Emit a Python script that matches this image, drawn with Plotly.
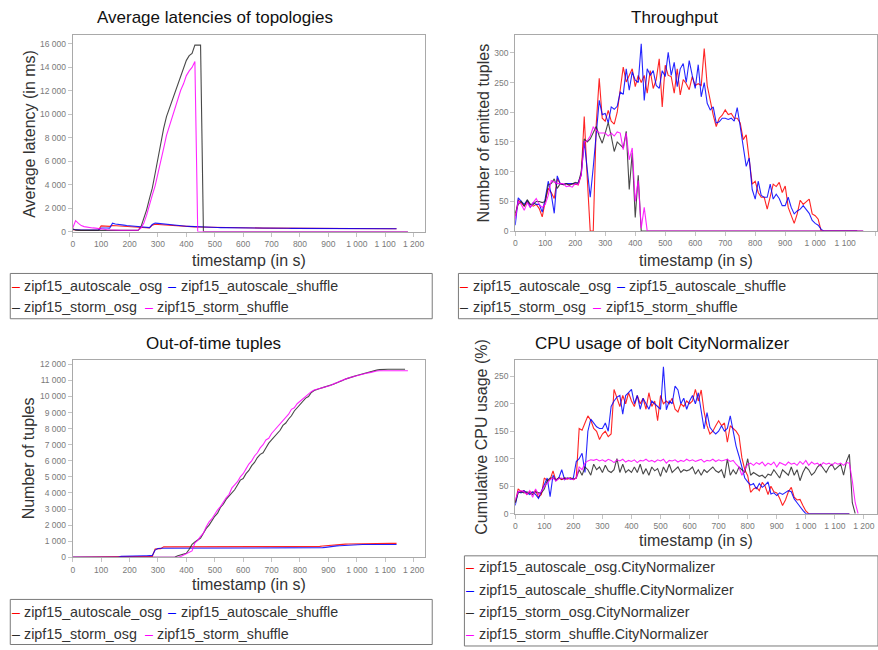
import plotly.graph_objects as go

W, H = 878, 650

# ---------------- data ----------------
T = list(range(0, 1190, 10))  # sampling grid (s)

SERIES = ["zipf15_autoscale_osg", "zipf15_autoscale_shuffle", "zipf15_storm_osg", "zipf15_storm_shuffle"]
CPU_SERIES = [s + ".CityNormalizer" for s in SERIES]
COLORS = ["#ff0000", "#0000ff", "#2a2a2a", "#ff00ff"]

# Average latency (ms)
lat_red = [150, 120, 110, 110, 110, 110, 110, 110, 110, 110,
           480, 470, 450, 440, 520, 500, 480, 460, 450, 440,
           420, 410, 400, 390, 370, 340, 310, 300, 550, 620,
           600, 580, 560, 540, 520, 500, 485, 470, 455, 440,
           430, 420, 410, 400, 392, 385, 378, 372, 366, 360,
           355, 350, 345, 340, 336, 332, 328, 324, 320, 317,
           314, 311, 308, 305, 302, 300, 298, 296, 294, 292,
           290, 288, 286, 284, 282, 280, 279, 278, 276, 275,
           274, 272, 271, 270, 268, 267, 266, 265, 263, 262,
           261, 260, 258, 257, 256, 255, 254, 252, 251, 250,
           249, 248, 246, 245, 244, 243, 242, 240, 239, 238,
           237, 236, 235, 234, 233]
lat_blue = [180, 150, 140, 130, 130, 130, 125, 125, 120, 120,
            300, 320, 300, 290, 720, 650, 600, 570, 550, 520,
            500, 480, 460, 440, 400, 370, 350, 340, 600, 720,
            700, 670, 640, 610, 580, 555, 530, 510, 490, 470,
            455, 440, 425, 410, 400, 390, 380, 372, 364, 357,
            350, 344, 338, 333, 328, 324, 320, 316, 312, 309,
            306, 303, 300, 298, 296, 294, 292, 290, 288, 286,
            284, 282, 281, 280, 278, 277, 276, 275, 273, 272,
            271, 270, 269, 268, 267, 266, 265, 264, 263, 262,
            261, 260, 259, 258, 257, 256, 255, 254, 253, 252,
            251, 250, 249, 248, 247, 246, 245, 244, 243, 242,
            241, 240, 239, 238, 237]
lat_black = [250, 120, 100, 100, 100, 100, 100, 100, 100, 100,
             100, 100, 100, 100, 100, 100, 100, 100, 100, 100,
             100, 100, 100, 100, 400, 1100, 1850, 2800, 3700, 4950,
             6250, 7700, 8800, 9800, 10500, 11200, 11800, 12600, 13200, 13900,
             14600, 15000, 15200, 15900, 15900, 15900, 10, 10, 10, 10,
             10, 10, 10, 10, 10, 10, 10, 10, 10, 10,
             10, 10, 10, 10, 10, 10, 10, 10, 10, 10,
             10, 10, 10, 10, 10, 10, 10, 10, 10, 10,
             10, 10, 10, 10, 10, 10, 10, 10, 10, 10,
             10, 10, 10, 10, 10, 10, 10, 10, 10, 10,
             10, 10, 10, 10, 10, 10, 10, 10, 10, 10,
             10, 10, 10, 10, 10, 10, 10, 10, 10]
lat_mag = [300, 930, 700, 510, 420, 370, 340, 310, 290, 280,
           250, 200, 150, 130, 120, 115, 115, 110, 110, 110,
           110, 110, 110, 110, 300, 700, 1400, 2150, 3100, 3900,
           4900, 6000, 7100, 8200, 9000, 9800, 10600, 11300, 12050, 12600,
           13300, 13700, 14000, 14500, 0, 0, 0, 0, 0, 0,
           0, 0, 0, 0, 0, 0, 0, 0, 0, 0,
           0, 0, 0, 0, 0, 0, 0, 0, 0, 0,
           0, 0, 0, 0, 0, 0, 0, 0, 0, 0,
           0, 0, 0, 0, 0, 0, 0, 0, 0, 0,
           0, 0, 0, 0, 0, 0, 0, 0, 0, 0,
           0, 0, 0, 0, 0, 0, 0, 0, 0, 0,
           0, 0, 0, 0, 0, 0, 0, 0, 0]

# Throughput (number of emitted tuples)
tp_red = [25, 52, 48, 42, 50, 45, 42, 45, 38, 24,
          50, 72, 65, 55, 88, 80, 78, 80, 78, 80,
          79, 78, 95, 193, 90, 0, 0, 180, 257, 190,
          185, 203, 185, 180, 200, 240, 276, 251, 262, 273,
          243, 262, 250, 262, 232, 270, 240, 255, 290, 209,
          279, 262, 260, 232, 273, 229, 255, 248, 238, 260,
          245, 248, 245, 307, 245, 218, 195, 176, 190, 195,
          204, 196, 198, 190, 190, 182, 154, 162, 123, 79,
          84, 65, 57, 57, 37, 57, 79, 75, 82, 65,
          76, 40, 28, 13, 29, 52, 45, 50, 54, 29,
          26, 20, 0, 0, 0, 0, 0, 0, 0, 0,
          0, 0, 0, 0, 0]
tp_blue = [10, 56, 50, 45, 52, 40, 48, 45, 45, 32,
           55, 84, 62, 30, 93, 80, 78, 80, 80, 80,
           80, 82, 95, 151, 100, 57, 107, 170, 220, 196,
           198, 182, 209, 205, 210, 234, 230, 273, 237, 268,
           254, 250, 315, 220, 273, 262, 270, 245, 240, 270,
           260, 301, 262, 284, 243, 273, 282, 250, 287, 262,
           240, 280, 226, 250, 215, 204, 209, 182, 184, 190,
           190, 188, 190, 185, 208, 176, 146, 109, 123, 70,
           54, 84, 60, 57, 57, 79, 54, 62, 55, 43,
           43, 57, 40, 29, 34, 37, 43, 37, 30, 18,
           13, 10, 3, 0, 0, 0, 0, 0, 0, 0,
           0, 0, 0, 0, 0]
tp_black = [30, 45, 50, 42, 53, 45, 45, 50, 50, 48,
            50, 78, 80, 88, 72, 80, 78, 80, 77, 80,
            82, 80, 100, 155, 150, 155, 165, 176, 160, 148,
            165, 183, 160, 134, 150, 145, 140, 168, 70, 132,
            23, 94, 0, 0, 0, 0, 0, 0, 0, 0,
            0, 0, 0, 0, 0, 0, 0, 0, 0, 0,
            0, 0, 0, 0, 0, 0, 0, 0, 0, 0,
            0, 0, 0, 0, 0, 0, 0, 0, 0, 0,
            0, 0, 0, 0, 0, 0, 0, 0, 0, 0,
            0, 0, 0, 0, 0, 0, 0, 0, 0, 0,
            0, 0, 0, 0, 0, 0, 0, 0, 0, 0,
            0, 0, 0, 0, 0, 0, 0]
tp_mag = [20, 50, 45, 35, 48, 40, 48, 55, 45, 40,
          45, 60, 85, 82, 80, 80, 80, 75, 76, 74,
          80, 78, 95, 150, 152, 160, 175, 170, 165, 165,
          165, 160, 165, 160, 167, 165, 137, 165, 120, 140,
          50, 85, 5, 40, 0, 0, 0, 0, 0, 0,
          0, 0, 0, 0, 0, 0, 0, 0, 0, 0,
          0, 0, 0, 0, 0, 0, 0, 0, 0, 0,
          0, 0, 0, 0, 0, 0, 0, 0, 0, 0,
          0, 0, 0, 0, 0, 0, 0, 0, 0, 0,
          0, 0, 0, 0, 0, 0, 0, 0, 0, 0,
          0, 0, 0, 0, 0, 0, 0, 0, 0, 0,
          0, 0, 0, 0, 0, 0, 0]

# Out-of-time tuples (cumulative count)
oot_red = [0, 0, 0, 0, 0, 0, 0, 0, 0, 0,
           0, 0, 10, 15, 20, 25, 30, 35, 40, 45,
           50, 55, 55, 60, 60, 60, 60, 60, 60, 520,
           530, 540, 650, 650, 650, 650, 650, 650, 650, 650,
           650, 650, 650, 650, 650, 650, 650, 650, 650, 650,
           650, 650, 650, 650, 650, 650, 650, 650, 650, 650,
           650, 650, 650, 650, 650, 650, 650, 650, 650, 650,
           650, 650, 650, 650, 650, 650, 650, 650, 650, 650,
           650, 650, 650, 650, 650, 650, 650, 680, 700, 720,
           740, 760, 780, 790, 800, 810, 820, 830, 835, 840,
           850, 860, 865, 870, 870, 870, 870, 870, 870, 870,
           870, 870, 870, 870, 870]
oot_blue = [0, 0, 0, 0, 0, 0, 0, 0, 0, 0,
            0, 0, 0, 0, 0, 0, 0, 60, 70, 75,
            80, 85, 90, 95, 100, 100, 100, 100, 120, 450,
            550, 560, 560, 560, 560, 560, 560, 560, 560, 560,
            560, 560, 560, 560, 560, 560, 560, 560, 560, 560,
            560, 560, 560, 560, 560, 560, 560, 560, 560, 560,
            560, 560, 560, 560, 560, 560, 560, 560, 560, 560,
            560, 560, 560, 560, 560, 560, 560, 560, 560, 560,
            560, 560, 560, 560, 560, 560, 560, 580, 600, 620,
            650, 670, 690, 710, 720, 735, 750, 760, 770, 780,
            785, 790, 795, 800, 800, 800, 800, 800, 800, 800,
            800, 800, 800, 800, 800]
oot_black = [0, 0, 0, 0, 0, 0, 0, 0, 0, 0,
             0, 0, 0, 0, 0, 0, 0, 0, 0, 0,
             0, 0, 0, 0, 0, 0, 0, 0, 0, 0,
             0, 0, 0, 0, 0, 0, 20, 100, 150, 180,
             250, 500, 800, 950, 1050, 1200, 1500, 1800, 2000, 2300,
             2550, 2750, 3100, 3300, 3600, 3800, 4000, 4200, 4500, 4800,
             4900, 5200, 5400, 5700, 5900, 6200, 6400, 6500, 6800, 7100,
             7300, 7500, 7700, 7900, 8200, 8350, 8600, 8800, 9100, 9300,
             9450, 9700, 9900, 10000, 10250, 10370, 10450, 10500, 10550, 10600,
             10650, 10700, 10770, 10850, 10950, 11000, 11080, 11150, 11180, 11250,
             11300, 11350, 11400, 11470, 11500, 11550, 11600, 11640, 11670, 11690,
             11690, 11690, 11690, 11690, 11690, 11690, 11690, 11690]
oot_mag = [0, 0, 0, 0, 0, 0, 0, 0, 0, 0,
           0, 0, 0, 0, 0, 0, 0, 0, 0, 0,
           0, 0, 0, 0, 0, 0, 0, 0, 0, 0,
           0, 0, 0, 0, 0, 0, 0, 0, 50, 150,
           250, 300, 400, 900, 1050, 1300, 1500, 1900, 2200, 2400,
           2700, 2950, 3150, 3450, 3700, 3900, 4300, 4500, 4700, 5000,
           5200, 5500, 5800, 6000, 6300, 6500, 6800, 7000, 7300, 7400,
           7700, 7900, 8100, 8300, 8500, 8700, 8900, 9200, 9300, 9550,
           9700, 9900, 10050, 10200, 10300, 10400, 10450, 10500, 10550, 10600,
           10650, 10700, 10800, 10850, 10950, 11000, 11080, 11150, 11200, 11250,
           11300, 11330, 11380, 11420, 11470, 11500, 11550, 11580, 11600, 11600,
           11600, 11600, 11600, 11600, 11600, 11600, 11600, 11600, 11600]

# CPU usage of bolt CityNormalizer (%)
cpu_red = [20, 45, 40, 42, 35, 40, 38, 42, 30, 35,
           65, 60, 62, 78, 60, 65, 62, 65, 63, 65,
           62, 65, 155, 152, 165, 178, 170, 155, 150, 135,
           145, 150, 140, 145, 226, 210, 195, 215, 200, 220,
           205, 195, 215, 200, 210, 190, 220, 195, 205, 169,
           215, 200, 205, 200, 210, 190, 185, 200, 195, 205,
           200, 205, 226, 205, 225, 185, 160, 145, 150, 160,
           169, 160, 165, 130, 160, 155, 150, 142, 102, 80,
           69, 39, 45, 48, 42, 57, 50, 35, 50, 40,
           38, 28, 15, 25, 40, 48, 30, 25, 26, 15,
           5, 0, 0, 0, 0, 0, 0, 0, 0, 0,
           0, 0, 0, 0, 0, 0]
cpu_blue = [15, 40, 38, 42, 38, 35, 40, 35, 28, 40,
            55, 65, 31, 70, 60, 65, 80, 62, 65, 63,
            65, 95, 100, 110, 75, 150, 172, 165, 158, 155,
            155, 165, 150, 195, 205, 212, 215, 181, 215, 220,
            226, 200, 215, 190, 210, 200, 190, 205, 200, 195,
            190, 267, 189, 205, 200, 232, 225, 200, 210, 190,
            205, 215, 200, 220, 185, 154, 184, 157, 150, 145,
            150, 160, 150, 155, 178, 150, 123, 105, 82, 65,
            58, 52, 55, 45, 55, 48, 52, 58, 36, 38,
            33, 38, 35, 38, 42, 40, 27, 20, 12, 6,
            0, 0, 0, 0, 0, 0, 0, 0, 0, 0,
            0, 0, 0, 0, 0, 0]
cpu_black = [20, 38, 40, 38, 40, 38, 35, 40, 38, 38,
             45, 60, 65, 65, 62, 65, 63, 65, 64, 65,
             63, 65, 80, 70, 85, 80, 70, 90, 80, 85,
             75, 88, 78, 75, 80, 100, 75, 90, 75, 80,
             75, 85, 75, 90, 72, 82, 70, 85, 78, 82,
             68, 85, 75, 90, 75, 80, 85, 75, 80, 78,
             80, 85, 72, 80, 70, 80, 75, 80, 85, 78,
             75, 80, 65, 100, 70, 80, 72, 85, 80, 75,
             100, 70, 75, 72, 68, 70, 65, 72, 70, 80,
             72, 65, 80, 75, 70, 85, 70, 80, 60, 75,
             85, 80, 70, 75, 85, 90, 82, 75, 85, 90,
             80, 85, 90, 70, 95, 108, 20, 0]
cpu_mag = [25, 40, 42, 40, 35, 42, 30, 45, 35, 40,
           50, 55, 62, 65, 60, 64, 65, 62, 65, 63,
           62, 65, 85, 80, 92, 96, 98, 97, 99, 96,
           98, 95, 99, 97, 93, 98, 96, 99, 94, 97,
           95, 98, 93, 97, 96, 99, 95, 97, 94, 98,
           96, 99, 92, 97, 96, 98, 94, 97, 95, 99,
           96, 98, 95, 97, 99, 94, 97, 96, 99, 95,
           98, 96, 97, 99, 95, 97, 90, 85, 70, 80,
           90, 92, 88, 93, 90, 94, 87, 92, 89, 94,
           85, 93, 90, 88, 94, 90, 92, 88, 95, 90,
           97, 88, 94, 90, 92, 87, 93, 90, 92, 88,
           93, 90, 92, 88, 93, 92, 60, 20, 0]

# ---------------- figure ----------------
def fx(px):
    return px / W

def fy(py):
    return 1 - py / H

FONT = "Liberation Sans, Arial, sans-serif"

fig = go.Figure()

panels = [
    ("x", "y", [lat_red, lat_blue, lat_black, lat_mag]),
    ("x2", "y2", [tp_red, tp_blue, tp_black, tp_mag]),
    ("x3", "y3", [oot_red, oot_blue, oot_black, oot_mag]),
    ("x4", "y4", [cpu_red, cpu_blue, cpu_black, cpu_mag]),
]
for k, (xa, ya, series) in enumerate(panels):
    names = CPU_SERIES if k == 3 else SERIES
    for name, vals, col in zip(names, series, COLORS):
        fig.add_trace(go.Scatter(
            x=T[:len(vals)], y=vals, mode="lines", name=name,
            line=dict(color=col, width=1.1), xaxis=xa, yaxis=ya,
            opacity=0.85, showlegend=False, hoverinfo="x+y+name"))

axis_common = dict(
    showline=True, mirror=True, linecolor="#a9a9a9", linewidth=1,
    ticks="outside", ticklen=4, tickcolor="#c4c4c4", tickwidth=1,
    tickfont=dict(family=FONT, size=8.5, color="#7a7a7a"),
    showgrid=False, zeroline=False, tickformat=",d",
)

fig.update_layout(
    width=W, height=H,
    margin=dict(l=0, r=0, t=0, b=0),
    paper_bgcolor="white", plot_bgcolor="white",
    separators=", ",
    font=dict(family=FONT),
    xaxis=dict(domain=[fx(71), fx(424)], anchor="y", range=[0, 1238.6], dtick=100, **axis_common),
    yaxis=dict(domain=[fy(232.7), fy(34.7)], anchor="x", range=[0, 16730], dtick=2000, **axis_common),
    xaxis2=dict(domain=[fx(515), 1.0], anchor="y2", range=[0, 1206], dtick=100, **axis_common),
    yaxis2=dict(domain=[fy(232.3), fy(34.7)], anchor="x2", range=[0, 329.3], dtick=50, **axis_common),
    xaxis3=dict(domain=[fx(71), fx(424)], anchor="y3", range=[0, 1238.6], dtick=100, **axis_common),
    yaxis3=dict(domain=[fy(561.5), fy(362.3)], anchor="x3", range=[0, 12271], dtick=1000, **axis_common),
    xaxis4=dict(domain=[fx(515), 1.0], anchor="y4", range=[0, 1245], dtick=100, **axis_common),
    yaxis4=dict(domain=[fy(517.5), fy(362.3)], anchor="x4", range=[0, 279.6], dtick=50, **axis_common),
)

ann = []
shapes = []

def text(px, py, s, size, color="#222", angle=0, xanchor="center"):
    ann.append(dict(x=fx(px), y=fy(py), xref="paper", yref="paper", text=s,
                    showarrow=False, xanchor=xanchor, yanchor="middle", borderpad=0,
                    textangle=angle, font=dict(family=FONT, size=size, color=color)))

# titles
text(214, 17, "Average latencies of topologies", 17, "#111")
text(675, 17, "Throughput", 17, "#111")
text(212, 346, "Out-of-time tuples", 17, "#111")
text(662, 346, "CPU usage of bolt CityNormalizer", 17, "#111")

# axis titles
XT = "timestamp (in s)"
text(247.5, 262, XT, 16, "#333")
text(696.5, 262, XT, 16, "#333")
text(247.5, 589, XT, 16, "#333")
text(696.5, 545, XT, 16, "#333")
text(27.5, 133.7, "Average latency (in ms)", 16, "#333", -90)
text(483, 133.5, "Number of emitted tuples", 16, "#333", -90)
text(26.7, 462, "Number of tuples", 16, "#333", -90)
text(481.5, 440, "Cumulative CPU usage (%)", 16, "#333", -90)

# legends: box + short colored dash + label
LEG = 14.3
LC = "#333"

def legend_item(i, names, x_dash, py):
    text(x_dash - 1, py, "–", LEG, COLORS[i], xanchor="left")
    text(x_dash + 11.5, py, names[i], LEG, LC, xanchor="left")

for ox, rows in [(0, (287.7, 309.3)), (450, (287.7, 309.3)), (0, (617, 638.5))]:
    legend_item(0, SERIES, 10 + ox, rows[0])
    legend_item(1, SERIES, 166.7 + ox, rows[0])
    legend_item(2, SERIES, 10 + ox, rows[1])
    legend_item(3, SERIES, 143.3 + ox, rows[1])
for i, py in enumerate([571.7, 594.3, 616.7, 639.3]):
    legend_item(i, CPU_SERIES, 466, py)

for (x0, y0, x1, y1) in [(8.3, 275, 431.7, 320.7), (458, 275, 879, 320.7),
                         (8.3, 604, 431.7, 649.5), (464, 560, 879, 651)]:
    shapes.append(dict(type="rect", xref="paper", yref="paper",
                       x0=fx(x0), x1=fx(x1), y0=fy(y1), y1=fy(y0),
                       line=dict(color="#7a7a7a", width=1), fillcolor="rgba(0,0,0,0)"))

fig.update_layout(annotations=ann, shapes=shapes)

fig.write_html("out.html", config={"displayModeBar": False},
               post_script="document.documentElement.style.overflow='hidden';"
                           "document.body.style.margin='0';document.body.style.overflow='hidden';")
